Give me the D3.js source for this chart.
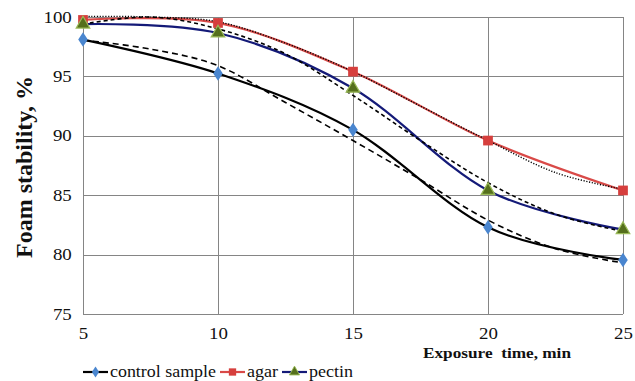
<!DOCTYPE html>
<html>
<head>
<meta charset="utf-8">
<script src="https://cdn.jsdelivr.net/npm/d3@7"></script>
<style>
  body { margin: 0; background: #fff; }
  svg, svg text { font-family: "Liberation Serif", "Times New Roman", Times, "DejaVu Serif", serif !important; }
</style>
</head>
<body>
<svg id="chart"></svg>
<script>
// chart size
let width = 635
let height = 381
let margin = {top: 17, right: 11, bottom: 67, left: 83}

// data
let times = [5, 10, 15, 20, 25]
let control = [98.1, 95.25, 90.5, 82.3, 79.55]
let agar = [99.75, 99.5, 95.4, 89.6, 85.4]
let pectin = [99.4, 98.65, 94.0, 85.4, 82.1]

// trend lines, sampled every 2.5 min
let trendTimes = [5, 7.5, 10, 12.5, 15, 17.5, 20, 22.5, 25]
let controlTrend = [98.05, 97.3, 95.9, 92.8, 89.6, 86.3, 82.9, 80.5, 79.3]
let agarTrend = [100.05, 100.0, 99.6, 97.8, 95.4, 92.5, 89.6, 86.9, 85.5]
let pectinTrend = [99.4, 100.0, 99.0, 96.9, 93.4, 89.6, 86.05, 83.4, 81.95]

let yTicks = [75, 80, 85, 90, 95, 100]
let xTicks = [5, 10, 15, 20, 25]

let serif = '"Liberation Serif", "Times New Roman", Times, "DejaVu Serif", serif'
// the reference is a little stretched sideways
let stretch = 1.18

let svg = d3.select('#chart')
    .attr('width', width)
    .attr('height', height)
    .style('font-family', serif)

let xScale = d3.scaleLinear()
    .domain([5, 25])
    .range([margin.left, width - margin.right - 1])

let yScale = d3.scaleLinear()
    .domain([75, 100])
    .range([height - margin.bottom, margin.top])

// grid
let gridColor = '#858585'
svg.append('g')
    .selectAll('line')
    .data(yTicks)
    .enter()
    .append('line')
    .attr('x1', xScale(5))
    .attr('x2', xScale(25))
    .attr('y1', d => Math.round(yScale(d)) + 0.5)
    .attr('y2', d => Math.round(yScale(d)) + 0.5)
    .attr('stroke', gridColor)
    .attr('stroke-width', 1)

svg.append('g')
    .selectAll('line')
    .data(xTicks)
    .enter()
    .append('line')
    .attr('x1', d => Math.round(xScale(d)) + 0.5)
    .attr('x2', d => Math.round(xScale(d)) + 0.5)
    .attr('y1', yScale(100))
    .attr('y2', yScale(75))
    .attr('stroke', gridColor)
    .attr('stroke-width', 1)

// axes (labels only, lines come from grid)
let yAxis = d3.axisLeft(yScale).tickValues(yTicks).tickSize(0).tickPadding(9.5)
let yG = svg.append('g')
    .attr('transform', 'translate(' + margin.left + ',0)')
    .call(yAxis)
    .attr('font-family', null)
yG.select('.domain').remove()
yG.selectAll('text')
    .style('font-family', serif)
    .attr('font-size', 16)
    .attr('fill', '#111')
    .attr('transform', 'scale(' + stretch + ',1)')

let xAxis = d3.axisBottom(xScale).tickValues(xTicks).tickSize(0).tickPadding(14)
let xG = svg.append('g')
    .attr('transform', 'translate(0,' + yScale(75) + ')')
    .call(xAxis)
    .attr('font-family', null)
xG.select('.domain').remove()
xG.selectAll('text')
    .style('font-family', serif)
    .attr('font-size', 16)
    .attr('fill', '#111')
    .attr('transform', 'scale(' + stretch + ',1)')

// titles
svg.append('text')
    .attr('transform', 'translate(32,167) scale(' + stretch + ',1) rotate(-90)')
    .attr('text-anchor', 'middle')
    .style('font-family', serif)
    .attr('font-size', 20)
    .attr('font-weight', 'bold')
    .attr('fill', '#111')
    .attr('textLength', 182)
    .attr('lengthAdjust', 'spacingAndGlyphs')
    .text('Foam stability, %')

svg.append('text')
    .attr('x', 423)
    .attr('y', 358)
    .style('font-family', serif)
    .attr('font-size', 15)
    .attr('font-weight', 'bold')
    .attr('fill', '#111')
    .attr('textLength', 148)
    .attr('lengthAdjust', 'spacingAndGlyphs')
    .style('white-space', 'pre')
    .text('Exposure  time, min')

// lines
let line = d3.line()
    .x(d => xScale(d[0]))
    .y(d => yScale(d[1]))
    .curve(d3.curveCardinal.tension(0))

let series = [
    {name: 'control sample', values: control, trend: controlTrend, color: '#000000', marker: '#4a86cf', shape: 'diamond', dash: '6,4', textW: 106},
    {name: 'agar', values: agar, trend: agarTrend, color: '#d94a48', marker: '#d63f3d', shape: 'square', dash: '1.2,1.6', textW: 31},
    {name: 'pectin', values: pectin, trend: pectinTrend, color: '#141a78', marker: '#556f1c', shape: 'triangle', dash: '4,3', textW: 44}
]

// series lines
series.forEach(s => {
    svg.append('path')
        .datum(times.map((t, i) => [t, s.values[i]]))
        .attr('d', line)
        .attr('fill', 'none')
        .attr('stroke', s.color)
        .attr('stroke-width', 2.2)
})

// trend lines drawn over the series lines
series.forEach(s => {
    svg.append('path')
        .datum(trendTimes.map((t, i) => [t, s.trend[i]]))
        .attr('d', line)
        .attr('fill', 'none')
        .attr('stroke', '#000')
        .attr('stroke-width', s.shape == 'square' ? 1.4 : 1.6)
        .attr('stroke-dasharray', s.dash)
})

let symbolType = {diamond: d3.symbolDiamond, square: d3.symbolSquare, triangle: d3.symbolTriangle}
let symbolSize = {diamond: 60, square: 95, triangle: 80}

function drawMarker(g, s, x, y, k) {
    let sx = s.shape == 'diamond' ? 1.15 * k : k
    g.append('path')
        .attr('d', d3.symbol().type(symbolType[s.shape]).size(symbolSize[s.shape]))
        .attr('transform', 'translate(' + x + ',' + y + ') scale(' + sx + ',' + k + ')')
        .attr('fill', s.marker)
        .attr('stroke', s.shape == 'triangle' ? '#9bbb59' : 'none')
        .attr('stroke-width', 1.2)
}

series.forEach(s => {
    let g = svg.append('g')
    times.forEach((t, i) => drawMarker(g, s, xScale(t), yScale(s.values[i]), 1))
})

// legend
let legendX = [83, 220, 282]
let legend = svg.append('g')
series.forEach((s, i) => {
    let x0 = legendX[i]
    legend.append('line')
        .attr('x1', x0)
        .attr('x2', x0 + 25)
        .attr('y1', 372)
        .attr('y2', 372)
        .attr('stroke', s.color)
        .attr('stroke-width', 2.2)
    drawMarker(legend, s, x0 + 12.5, 372, 0.75)
    legend.append('text')
        .attr('x', x0 + 27)
        .attr('y', 377)
        .style('font-family', serif)
        .attr('font-size', 16)
        .attr('fill', '#111')
        .attr('textLength', s.textW)
        .attr('lengthAdjust', 'spacingAndGlyphs')
        .text(s.name)
})
</script>
</body>
</html>
